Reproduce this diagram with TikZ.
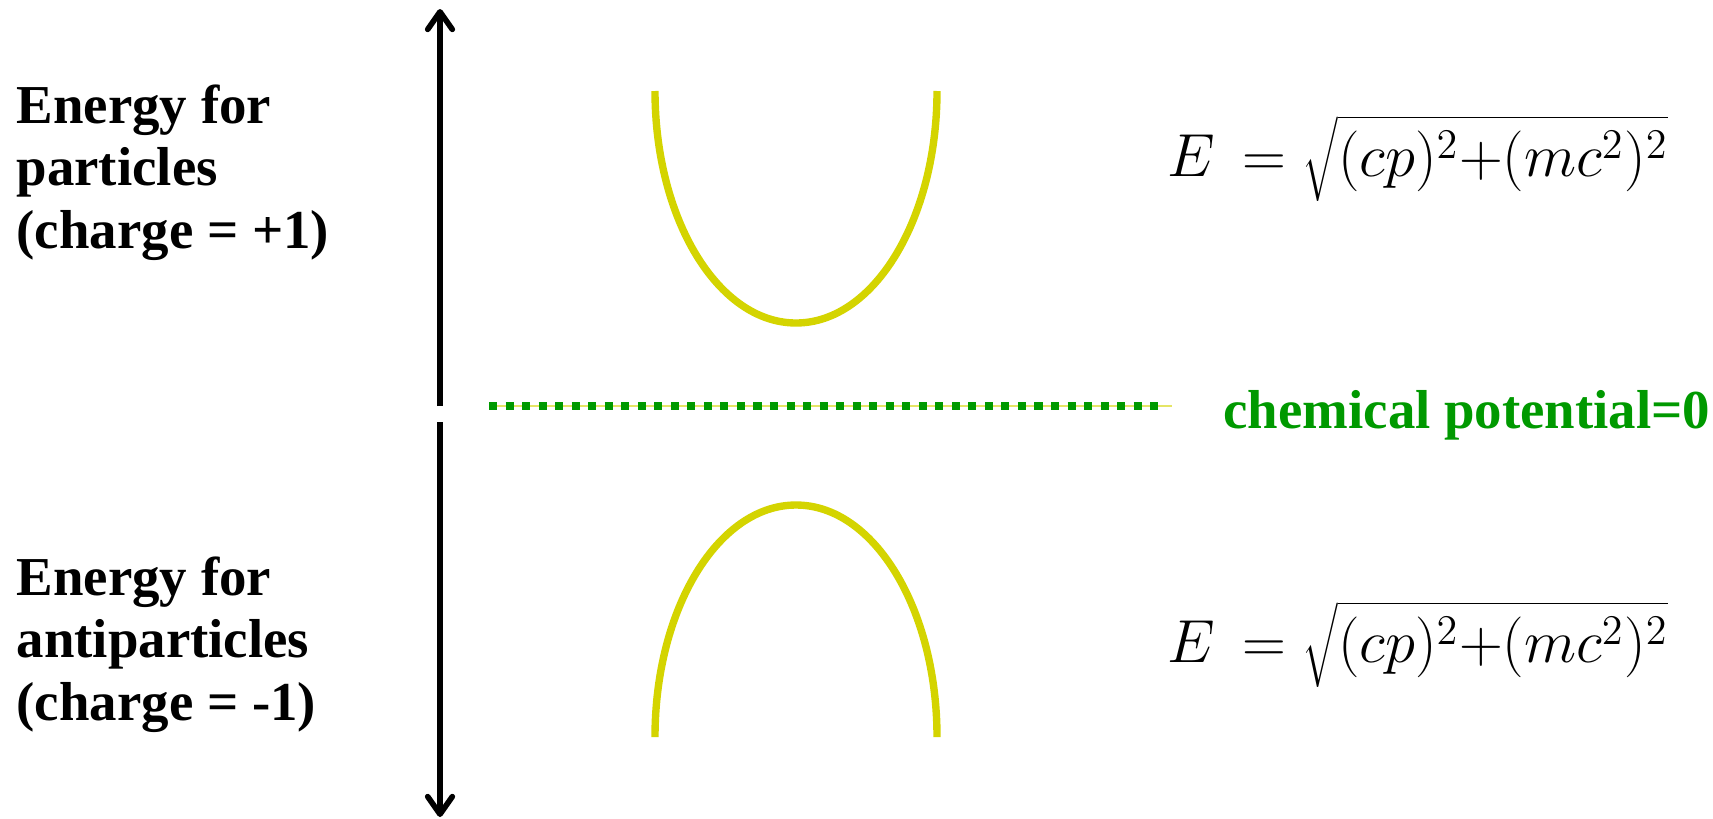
\documentclass[tikz,border=0pt]{standalone}
\usepackage{fontspec}
\setmainfont{Liberation Serif}
\usepackage{tikz}
\usetikzlibrary{arrows.meta,positioning}
\definecolor{cY}{HTML}{D4D400}
\definecolor{cG}{HTML}{009900}
\tikzset{
  band/.style={line width=2.1pt,draw=cY},
  axisarrow/.style={-{Straight Barb[length=5pt,width=7pt,round]},line width=1.6pt,black},
  potline/.style={cG,line width=2.3pt,dash pattern=on 2.3pt off 2.4pt},
  label/.style={inner sep=0pt,align=left,font=\fontsize{15.6}{17.8}\selectfont\bfseries},
  formula/.style={inner sep=0pt,font=\fontsize{17.2}{20}\selectfont},
}
\begin{document}
\begin{tikzpicture}[x=0.01cm,y=-0.01cm]
  \useasboundingbox (0,0) rectangle (1713,818);
  % energy axis, broken at the zero line
  \coordinate (top) at (440,9);
  \coordinate (gapA) at (440,406);
  \coordinate (gapB) at (440,422);
  \coordinate (bot) at (440,817);
  \draw[axisarrow] (gapA) -- (top);
  \draw[axisarrow] (gapB) -- (bot);
  % chemical potential
  \coordinate (muL) at (489,406);
  \coordinate (muR) at (1164,406);
  \coordinate (muT) at (1172,406);
  \draw[cY!60,line width=0.6pt] (muL) -- (muT);
  \draw[potline] (muL) -- (muR);
  \node[label,text=cG,anchor=base east] (mu) at (1711,428) {chemical potential=0};
  % particle and antiparticle branches
  \draw[band] (655,91) .. controls (655,219) and (718,323) .. (796,323)
                      .. controls (874,323) and (937,219) .. (937,91);
  \draw[band] (655,737) .. controls (655,609) and (718,505) .. (796,505)
                       .. controls (874,505) and (937,609) .. (937,737);
  % labels
  \node[label,anchor=north west] (part) at (16,84) {Energy for\\particles\\(charge = +1)};
  \node[label,anchor=north west] (anti) at (16,556) {Energy for\\antiparticles\\(charge = -1)};
  \node[formula,anchor=base west] (eqP) at (1167,176) {$E\,=\sqrt{(cp)^2{+}(mc^2)^2}$};
  \node[formula,anchor=base west] (eqA) at (1167,662) {$E\,=\sqrt{(cp)^2{+}(mc^2)^2}$};
\end{tikzpicture}
\end{document}
